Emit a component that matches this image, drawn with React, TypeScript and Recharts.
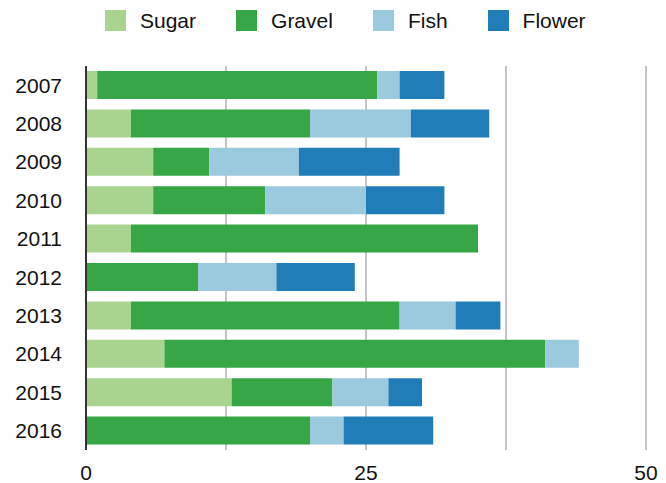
import React from "react";
import { BarChart, Bar, XAxis, YAxis, CartesianGrid, Legend } from "recharts";

const years = ["2007", "2008", "2009", "2010", "2011", "2012", "2013", "2014", "2015", "2016"];
const sugar = [1, 4, 6, 6, 4, 0, 4, 7, 13, 0];
const gravel = [25, 16, 5, 10, 31, 10, 24, 34, 9, 20];
const fish = [2, 9, 8, 9, 0, 7, 5, 3, 5, 3];
const flower = [4, 7, 9, 7, 0, 7, 4, 0, 3, 8];
const xTicks = [0, 12.5, 25, 37.5, 50];
const xLabels = ["0", "", "25", "", "50"];

const seriesNames = ["Sugar", "Gravel", "Fish", "Flower"];
const seriesColors = ["#a9d490", "#36a647", "#9bc9dd", "#207db7"];

const data = years.map((y, i) => ({
  year: y,
  Sugar: sugar[i],
  Gravel: gravel[i],
  Fish: fish[i],
  Flower: flower[i],
}));

const FONT = "'Liberation Sans', Arial, Helvetica, sans-serif";

const LegendContent = () => (
  <div
    style={{
      height: 42,
      width: 666,
      display: "flex",
      alignItems: "center",
      paddingLeft: 105,
      paddingBottom: 1,
      boxSizing: "border-box",
      fontFamily: FONT,
      fontSize: 21,
      color: "#111",
    }}
  >
    {seriesNames.map((n, i) => (
      <div key={n} style={{ display: "flex", alignItems: "center", marginRight: 40 }}>
        <div style={{ width: 21, height: 21, background: seriesColors[i], marginRight: 14 }} />
        <span style={{ lineHeight: "21px" }}>{n}</span>
      </div>
    ))}
  </div>
);

export default function App() {
  return (
    <div style={{ position: "absolute", left: 0, top: 0, width: 666, height: 483, background: "#fff" }}>
      <BarChart
        width={666}
        height={483}
        data={data}
        layout="vertical"
        margin={{ top: 24, right: 20, bottom: 0, left: 0 }}
        barSize={28}
      >
        <Legend
          verticalAlign="top"
          align="left"
          content={<LegendContent />}
          wrapperStyle={{ top: 0, left: 0, height: 42, width: 666 }}
        />
        <CartesianGrid horizontal={false} stroke="#c4c4c4" strokeWidth={2} />
        <XAxis
          type="number"
          domain={[0, 50]}
          ticks={xTicks}
          tickFormatter={(v: number) => xLabels[xTicks.indexOf(v)] ?? ""}
          axisLine={false}
          tickLine={false}
          tickSize={0}
          tickMargin={15}
          height={33}
          interval={0}
          tick={{ fill: "#111", fontSize: 21, fontFamily: FONT }}
        />
        <YAxis
          type="category"
          dataKey="year"
          width={86}
          axisLine={{ stroke: "#333", strokeWidth: 2 }}
          tickLine={false}
          tickSize={0}
          tickMargin={24}
          interval={0}
          tick={{ fill: "#111", fontSize: 21, fontFamily: FONT }}
        />
        {seriesNames.map((n, i) => (
          <Bar key={n} dataKey={n} stackId="a" fill={seriesColors[i]} isAnimationActive={false} />
        ))}
      </BarChart>
    </div>
  );
}
